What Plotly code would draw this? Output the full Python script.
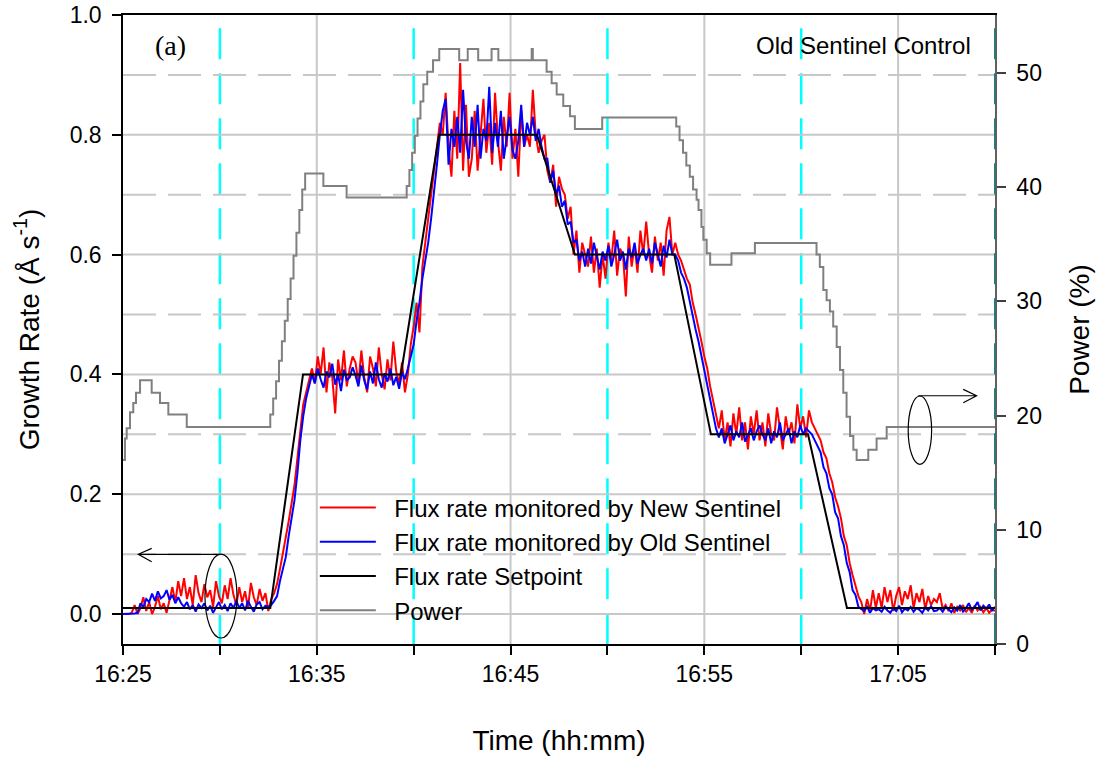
import numpy as np
import plotly.graph_objects as go

# ---------------- data ----------------
# sample times for monitored flux rates: minutes after 16:00, every 0.15 min (9 s)
t_flux = 25 + 0.15 * np.arange(301)

new_sentinel = [
    # 25.00 - 27.85
    0.000, 0.000, 0.000, 0.002, 0.015, 0.000, 0.010, 0.028, 0.005, 0.020, 0.000, 0.012, 0.030, 0.008, 0.018, 0.002, 0.025, 0.045, 0.020, 0.055,
    # 28.00 - 30.85
    0.030, 0.060, 0.025, 0.045, 0.015, 0.065, 0.035, 0.020, 0.050, 0.028, 0.040, 0.012, 0.055, 0.030, 0.018, 0.048, 0.025, 0.060, 0.032, 0.015,
    # 31.00 - 33.85
    0.045, 0.020, 0.038, 0.010, 0.052, 0.028, 0.015, 0.042, 0.022, 0.035, 0.005, 0.025, 0.035, 0.050, 0.075, 0.100, 0.125, 0.155, 0.185, 0.215,
    # 34.00 - 36.85
    0.260, 0.310, 0.350, 0.370, 0.390, 0.410, 0.385, 0.430, 0.400, 0.445, 0.370, 0.420, 0.395, 0.335, 0.425, 0.390, 0.440, 0.380, 0.410, 0.430,
    # 37.00 - 39.85
    0.420, 0.385, 0.440, 0.395, 0.370, 0.430, 0.410, 0.380, 0.445, 0.400, 0.375, 0.425, 0.390, 0.455, 0.405, 0.385, 0.420, 0.370, 0.400, 0.450,
    # 40.00 - 42.85
    0.480, 0.520, 0.470, 0.580, 0.620, 0.660, 0.700, 0.740, 0.780, 0.820, 0.800, 0.870, 0.780, 0.730, 0.840, 0.760, 0.920, 0.740, 0.850, 0.730,
    # 43.00 - 45.85
    0.760, 0.840, 0.740, 0.800, 0.860, 0.770, 0.820, 0.750, 0.870, 0.790, 0.740, 0.830, 0.780, 0.870, 0.760, 0.810, 0.730, 0.840, 0.780, 0.800,
    # 46.00 - 48.85
    0.780, 0.875, 0.800, 0.770, 0.790, 0.800, 0.740, 0.720, 0.750, 0.680, 0.730, 0.710, 0.700, 0.660, 0.680, 0.600, 0.640, 0.570, 0.620, 0.600,
    # 49.00 - 51.85
    0.580, 0.630, 0.570, 0.610, 0.545, 0.600, 0.560, 0.620, 0.590, 0.640, 0.565, 0.610, 0.600, 0.530, 0.630, 0.580, 0.615, 0.570, 0.640, 0.600,
    # 52.00 - 54.85
    0.655, 0.600, 0.570, 0.630, 0.590, 0.620, 0.565, 0.640, 0.663, 0.600, 0.620, 0.600, 0.590, 0.575, 0.560, 0.550, 0.520, 0.500, 0.480, 0.455,
    # 55.00 - 57.85
    0.430, 0.410, 0.380, 0.355, 0.330, 0.310, 0.340, 0.290, 0.320, 0.280, 0.335, 0.300, 0.345, 0.290, 0.320, 0.275, 0.330, 0.300, 0.340, 0.290,
    # 58.00 - 60.85
    0.320, 0.280, 0.335, 0.300, 0.290, 0.345, 0.310, 0.275, 0.330, 0.300, 0.320, 0.285, 0.350, 0.310, 0.330, 0.295, 0.340, 0.320, 0.310, 0.300,
    # 61.00 - 63.85
    0.290, 0.270, 0.260, 0.235, 0.220, 0.195, 0.180, 0.160, 0.130, 0.115, 0.085, 0.065, 0.045, 0.030, 0.020, 0.000, 0.025, 0.005, 0.040, 0.010,
    # 64.00 - 66.85
    0.035, 0.010, 0.045, 0.020, 0.040, 0.005, 0.030, 0.045, 0.015, 0.038, 0.025, 0.048, 0.010, 0.035, 0.020, 0.042, 0.008, 0.030, 0.015, 0.025,
    # 67.00 - 70.00
    0.020, 0.035, 0.008, 0.015, 0.005, 0.018, 0.002, 0.012, 0.006, 0.015, 0.003, 0.010, 0.002, 0.014, 0.006, 0.012, 0.003, 0.010, 0.002, 0.008, 0.005,
]

old_sentinel = [
    # 25.00 - 27.85
    0.000, 0.000, 0.000, 0.000, 0.001, 0.002, 0.018, 0.012, 0.025, 0.020, 0.034, 0.022, 0.038, 0.026, 0.030, 0.040, 0.024, 0.032, 0.018, 0.028,
    # 28.00 - 30.85
    0.018, 0.012, 0.020, 0.008, 0.015, 0.004, 0.016, 0.010, 0.018, 0.006, 0.014, 0.002, 0.012, 0.020, 0.008, 0.015, 0.005, 0.018, 0.010, 0.022,
    # 31.00 - 33.85
    0.010, 0.018, 0.006, 0.022, 0.012, 0.004, 0.016, 0.020, 0.008, 0.014, 0.012, 0.015, 0.022, 0.030, 0.055, 0.075, 0.095, 0.130, 0.160, 0.190,
    # 34.00 - 36.85
    0.235, 0.290, 0.330, 0.360, 0.380, 0.400, 0.385, 0.410, 0.392, 0.378, 0.405, 0.395, 0.418, 0.383, 0.400, 0.372, 0.408, 0.390, 0.395, 0.412,
    # 37.00 - 39.85
    0.398, 0.380, 0.415, 0.390, 0.375, 0.405, 0.385, 0.420, 0.392, 0.378, 0.402, 0.388, 0.410, 0.382, 0.396, 0.376, 0.404, 0.392, 0.410, 0.430,
    # 40.00 - 42.85
    0.450, 0.490, 0.520, 0.560, 0.590, 0.620, 0.660, 0.700, 0.750, 0.800, 0.840, 0.860, 0.750, 0.810, 0.780, 0.830, 0.770, 0.875, 0.790, 0.760,
    # 43.00 - 45.85
    0.830, 0.780, 0.850, 0.760, 0.810, 0.790, 0.880, 0.770, 0.820, 0.780, 0.840, 0.760, 0.800, 0.830, 0.775, 0.760, 0.790, 0.850, 0.780, 0.820,
    # 46.00 - 48.85
    0.800, 0.830, 0.790, 0.810, 0.780, 0.760, 0.760, 0.720, 0.740, 0.700, 0.715, 0.680, 0.690, 0.650, 0.655, 0.620, 0.625, 0.590, 0.605, 0.580,
    # 49.00 - 51.85
    0.610, 0.585, 0.620, 0.595, 0.575, 0.605, 0.590, 0.615, 0.580, 0.600, 0.625, 0.590, 0.605, 0.575, 0.610, 0.595, 0.620, 0.585, 0.600, 0.610,
    # 52.00 - 54.85
    0.590, 0.610, 0.585, 0.620, 0.600, 0.580, 0.615, 0.595, 0.625, 0.600, 0.600, 0.590, 0.570, 0.560, 0.545, 0.520, 0.500, 0.475, 0.455, 0.430,
    # 55.00 - 57.85
    0.405, 0.380, 0.355, 0.330, 0.310, 0.295, 0.310, 0.285, 0.300, 0.315, 0.290, 0.305, 0.295, 0.320, 0.288, 0.300, 0.310, 0.290, 0.305, 0.315,
    # 58.00 - 60.85
    0.300, 0.290, 0.310, 0.285, 0.305, 0.295, 0.320, 0.290, 0.300, 0.310, 0.285, 0.305, 0.295, 0.315, 0.300, 0.310, 0.305, 0.300, 0.290, 0.280,
    # 61.00 - 63.85
    0.270, 0.245, 0.235, 0.210, 0.200, 0.170, 0.160, 0.130, 0.115, 0.085, 0.070, 0.040, 0.032, 0.012, 0.008, 0.005, 0.012, 0.002, 0.010, 0.006,
    # 64.00 - 66.85
    0.008, 0.004, 0.012, 0.006, 0.002, 0.010, 0.005, 0.014, 0.003, 0.009, 0.006, 0.012, 0.004, 0.010, 0.007, 0.002, 0.011, 0.006, 0.013, 0.005,
    # 67.00 - 70.00
    0.006, 0.010, 0.004, 0.012, 0.008, 0.003, 0.011, 0.006, 0.015, 0.004, 0.010, 0.018, 0.007, 0.012, 0.020, 0.006, 0.014, 0.009, 0.016, 0.005, 0.012,
]

# setpoint breakpoints (minutes after 16:00, growth rate)
t_setpoint = [25.0, 32.60, 34.29, 39.34, 41.31, 46.36, 48.32, 53.45, 55.34, 60.35, 62.36, 70.0]
setpoint = [0.01, 0.01, 0.40, 0.40, 0.80, 0.80, 0.60, 0.60, 0.30, 0.30, 0.01, 0.01]

# power steps (minutes after 16:00, %)
t_power = [25.00, 25.10, 25.19, 25.36, 25.53, 25.67, 25.88, 26.48, 26.91, 27.34, 28.29,
           32.60, 32.75, 32.90, 33.05, 33.20, 33.35, 33.50, 33.65, 33.80, 33.95, 34.10, 34.25, 34.40,
           35.34, 36.54, 39.64, 39.78, 39.92, 40.06, 40.20, 40.35, 40.50, 40.70, 41.00, 41.32,
           42.35, 42.79, 43.33, 44.02, 44.37, 46.09, 46.15, 46.86, 47.12, 47.38, 47.72, 48.07, 48.32,
           49.73, 53.55, 53.72, 53.90, 54.07, 54.25, 54.42, 54.60, 54.70, 54.85, 54.95, 55.12, 55.30,
           56.40, 57.61, 60.79, 60.96, 61.14, 61.31, 61.48, 61.65, 61.83, 62.00, 62.17, 62.34, 62.52,
           62.69, 62.86, 63.46, 63.89, 64.41, 70.00]
power = [16.1, 18.0, 18.9, 20.3, 21.1, 22.0, 23.1, 22.0, 21.1, 20.1, 19.0,
         20.1, 21.5, 23.0, 24.8, 26.5, 28.3, 30.2, 32.0, 34.0, 36.0, 38.0, 39.8, 41.2,
         40.1, 39.1, 40.1, 41.5, 43.0, 44.5, 46.0, 47.5, 49.0, 50.1, 51.1, 52.1,
         51.1, 52.1, 51.1, 52.1, 51.1, 52.1, 51.1, 50.1, 49.1, 48.1, 47.1, 46.2, 45.1,
         46.1, 45.3, 44.1, 43.0, 41.9, 40.9, 39.8, 38.9, 38.0, 36.5, 35.4, 34.2, 33.2,
         34.2, 35.1, 34.1, 33.0, 31.0, 30.1, 29.1, 27.8, 26.0, 24.0, 22.0, 19.9, 18.2,
         17.0, 16.1, 17.0, 18.0, 19.0, 19.0]

x_tickvals = [25, 35, 45, 55, 65]
x_ticktext = ["16:25", "16:35", "16:45", "16:55", "17:05"]
y_tickvals = [0.0, 0.2, 0.4, 0.6, 0.8, 1.0]
y2_tickvals = [0, 10, 20, 30, 40, 50]

FONT = "Liberation Sans, Arial, sans-serif"
SP = "\u00a0\u00a0"

fig = go.Figure()
fig.add_trace(go.Scatter(x=t_power, y=power, mode="lines", name=SP + "Power", yaxis="y2",
                         line=dict(color="#808080", width=2, shape="hv"), legendrank=4))
fig.add_trace(go.Scatter(x=t_flux, y=new_sentinel, mode="lines", name=SP + "Flux rate monitored by New Sentinel",
                         line=dict(color="#ff0000", width=2), legendrank=1))
fig.add_trace(go.Scatter(x=t_flux, y=old_sentinel, mode="lines", name=SP + "Flux rate monitored by Old Sentinel",
                         line=dict(color="#0000ff", width=2), legendrank=2))
fig.add_trace(go.Scatter(x=t_setpoint, y=setpoint, mode="lines", name=SP + "Flux rate Setpoint",
                         line=dict(color="black", width=2), legendrank=3))

shapes = []
grid_col = "#c8c8c8"
for xv in [35, 45, 55, 65]:
    shapes.append(dict(type="line", xref="x", yref="paper", x0=xv, x1=xv, y0=0, y1=1,
                       line=dict(color=grid_col, width=2), layer="below"))
for xv in [30, 40, 50, 60]:
    shapes.append(dict(type="line", xref="x", yref="paper", x0=xv, x1=xv, y0=0.979, y1=0,
                       line=dict(color="#00ffff", width=2.5, dash="31px,14px"), layer="below"))
for yv in [0.0, 0.2, 0.4, 0.6, 0.8]:
    shapes.append(dict(type="line", xref="paper", yref="y", x0=0, x1=1, y0=yv, y1=yv,
                       line=dict(color=grid_col, width=2), layer="below"))
for yv in [0.1, 0.3, 0.5, 0.7, 0.9]:
    shapes.append(dict(type="line", xref="paper", yref="y", x0=0, x1=1, y0=yv, y1=yv,
                       line=dict(color=grid_col, width=2, dash="33px,12px"), layer="below"))
shapes.append(dict(type="line", xref="x", yref="paper", x0=70, x1=70, y0=0.979, y1=0,
                   line=dict(color="#008b8b", width=2, dash="31px,14px"), layer="above"))
shapes.append(dict(type="circle", xref="x", yref="y", x0=29.23, x1=30.88, y0=-0.040, y1=0.100,
                   line=dict(color="black", width=1.2)))
shapes.append(dict(type="path", xref="x", yref="y",
                   path="M 30.0,0.0997 L 25.79,0.0997 M 26.48,0.1097 L 25.79,0.0997 L 26.48,0.0873",
                   line=dict(color="black", width=1.2)))
shapes.append(dict(type="circle", xref="x", yref="y", x0=65.52, x1=66.73, y0=0.25, y1=0.364,
                   line=dict(color="black", width=1.2)))
shapes.append(dict(type="path", xref="x", yref="y",
                   path="M 66.04,0.3644 L 69.05,0.3644 M 68.36,0.375 L 69.05,0.3644 L 68.36,0.3527",
                   line=dict(color="black", width=1.2)))

fig.update_layout(
    width=1105, height=762,
    margin=dict(l=123, r=110, t=15, b=118),
    paper_bgcolor="white", plot_bgcolor="white",
    font=dict(family=FONT, size=24, color="black"),
    shapes=shapes,
    showlegend=True,
    legend=dict(x=0.220, y=0.252, xanchor="left", yanchor="top", bgcolor="rgba(0,0,0,0)",
                font=dict(family=FONT, size=24, color="black"), itemwidth=56, tracegroupgap=0),
    xaxis=dict(range=[25, 70], tickvals=x_tickvals, ticktext=x_ticktext, ticks="outside", ticklen=9,
               tickcolor="black", tickwidth=1.5, showgrid=False, zeroline=False, showline=True,
               linecolor="black", linewidth=1.5, mirror=True, ticklabelstandoff=0, automargin=False,
               ticklabeloverflow="allow",
               minor=dict(tick0=25, dtick=5, ticks="outside", ticklen=9, tickcolor="black",
                          tickwidth=1.5, showgrid=False),
               tickfont=dict(family=FONT, size=23),
               title=dict(text="Time (hh:mm)", font=dict(family=FONT, size=28), standoff=44)),
    yaxis=dict(range=[-0.05, 1.0], tickvals=y_tickvals, tickformat=".1f", ticks="outside", ticklen=9,
               tickcolor="black", tickwidth=1.5, showgrid=False, zeroline=False, showline=True,
               linecolor="black", linewidth=1.5, ticklabelstandoff=6, automargin=False,
               ticklabeloverflow="allow",
               tickfont=dict(family=FONT, size=23),
               title=dict(text="Growth Rate (Å s<sup>-1</sup>)", font=dict(family=FONT, size=28), standoff=22)),
    yaxis2=dict(range=[0, 55.07], tickvals=y2_tickvals, overlaying="y", side="right", ticks="outside",
                ticklen=9, tickcolor="#404040", tickwidth=1.5, showgrid=False, zeroline=False, showline=True,
                linecolor="#606060", linewidth=1.5, ticklabelstandoff=6, automargin=False,
                ticklabeloverflow="allow",
                tickfont=dict(family=FONT, size=23),
                title=dict(text="Power (%)", font=dict(family=FONT, size=28), standoff=28)),
    annotations=[
        dict(text="(a)", xref="paper", yref="paper", x=0.054, y=0.952, xanchor="center", yanchor="middle",
             showarrow=False,
             font=dict(family="Liberation Serif, Times New Roman, serif", size=28, color="black")),
        dict(text="Old Sentinel Control", xref="paper", yref="paper", x=0.975, y=0.951,
             xanchor="right", yanchor="middle", showarrow=False,
             font=dict(family=FONT, size=24, color="black")),
    ],
)

# remove the browser's default body margin so the figure fills the window exactly
fig.write_html("out.html", config={"displayModeBar": False},
               post_script="document.body.style.margin='0';document.body.style.overflow='hidden';")
